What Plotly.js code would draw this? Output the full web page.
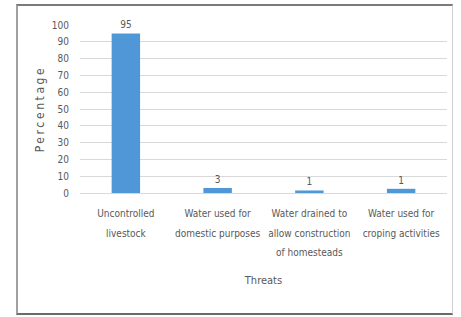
<!DOCTYPE html>
<html>
<head>
<meta charset="utf-8">
<script src="https://cdn.plot.ly/plotly-3.0.1.min.js"></script>
<style>
  html, body { margin:0; padding:0; background:#fff; }
  #wrap { position:relative; width:461px; height:317px; }
  #chart { position:absolute; left:0; top:0; width:461px; height:317px; }
  #frame { position:absolute; left:16px; top:4px; width:434px; height:307px;
           border-top:2px solid #7a7a7a; border-left:2px solid #a0a0a0;
           border-bottom:2px solid #6a6a6a; border-right:1px solid #d0d0d0;
           pointer-events:none; }
  #chart svg text { font-stretch: condensed !important; }
  .ytitle { letter-spacing:2.6px; }
</style>
</head>
<body>
<div id="wrap">
  <div id="chart"></div>
  <div id="frame"></div>
</div>
<script>
const categories = [
  ["Uncontrolled", "livestock"],
  ["Water used for", "domestic purposes"],
  ["Water drained to", "allow construction", "of homesteads"],
  ["Water used for", "croping activities"]
];
const percentages = [95, 3, 1.5, 2.5];
const valueLabels = ["95", "3", "1", "1"];
const yTickValues = [0,10,20,30,40,50,60,70,80,90,100];

const fontFam = "'DejaVu Sans Condensed', 'DejaVu Sans', sans-serif";
const grey = "#595959";

const catKeys = categories.map(c => c.join(" "));
const catText = categories.map(c => c.map(s => "<span style='font-size:10px'>" + s + "</span>").join("<br>"));

const trace = {
  type: "bar",
  x: catKeys,
  y: percentages,
  text: valueLabels,
  textposition: "outside",
  texttemplate: "%{text}",
  cliponaxis: false,
  textfont: { family: fontFam, size: 10, color: grey },
  marker: { color: "#5097d8" },
  hoverinfo: "none"
};

const layout = {
  width: 461, height: 317,
  margin: { l: 80, r: 14, t: 25, b: 124 },
  paper_bgcolor: "rgba(0,0,0,0)",
  plot_bgcolor: "#fff",
  bargap: 0.69,
  showlegend: false,
  font: { family: fontFam, color: grey, size: 11 },
  xaxis: {
    type: "category",
    tickangle: 0,
    tickvals: catKeys,
    ticktext: catText,
    showgrid: false,
    showline: false,
    zeroline: false,
    ticks: "",
    tickfont: { family: fontFam, size: 15, color: grey },
    ticklabelstandoff: 8,
    automargin: false,
    title: { text: "Threats", font: { family: fontFam, size: 11, color: grey }, standoff: 19 }
  },
  yaxis: {
    range: [0, 100],
    tickvals: yTickValues,
    ticktext: yTickValues.map(String),
    showgrid: true,
    gridcolor: "#d9d9d9",
    gridwidth: 1,
    zeroline: true,
    zerolinecolor: "#d9d9d9",
    showline: false,
    ticks: "",
    ticklabelstandoff: 10,
    tickfont: { family: fontFam, size: 10, color: grey },
    automargin: false,
    title: { text: "Percentage", font: { family: fontFam, size: 12, color: grey }, standoff: 4 }
  }
};

Plotly.newPlot("chart", [trace], layout, { staticPlot: true, displayModeBar: false });
</script>
</body>
</html>
